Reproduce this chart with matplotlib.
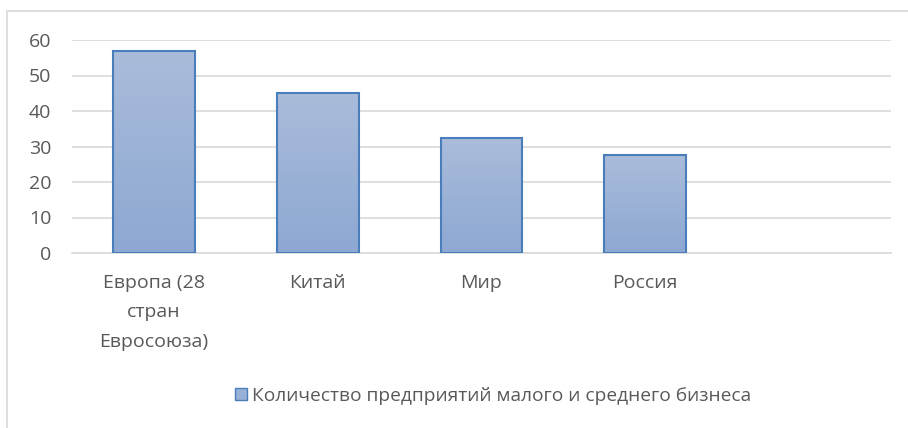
import matplotlib
matplotlib.use('Agg')
import matplotlib.pyplot as plt
import numpy as np
from matplotlib.patches import Rectangle, Patch

categories = ['Европа (28\nстран\nЕвросоюза)', 'Китай', 'Мир', 'Россия', '']
values = [57.0, 45.1, 32.3, 27.7, 0]
series_name = 'Количество предприятий малого и среднего бизнеса'
yticks = [0, 10, 20, 30, 40, 50, 60]

plt.rcParams['font.family'] = ['Open Sans', 'DejaVu Sans']

fig = plt.figure(figsize=(9.08, 4.28), dpi=100)
# outer chart border (goes off the right/bottom edges)
fig.patches.append(Rectangle((7 / 908, -0.1), 1.2, (428 - 10.5) / 428 + 0.1,
                             transform=fig.transFigure, fill=False,
                             edgecolor='#D9D9D9', linewidth=1.2))

ax = fig.add_axes([72 / 908, 175 / 428, 819 / 908, 213 / 428])
x = np.arange(len(categories))
shown = [v if v > 0 else np.nan for v in values]
bars = ax.bar(x, shown, width=0.5, color='none', edgecolor='#4A7EBB',
              linewidth=1.5, zorder=3)

# vertical gradient fill like the office chart
grad = np.linspace(0, 1, 256).reshape(-1, 1)
cmap = matplotlib.colors.LinearSegmentedColormap.from_list('g', ['#8DA8D3', '#AABCDA'])
for b in bars:
    h = b.get_height()
    if not np.isfinite(h):
        continue
    ax.imshow(grad, cmap=cmap, origin='lower', aspect='auto', zorder=2,
              extent=[b.get_x(), b.get_x() + b.get_width(), 0, h])

ax.set_xlim(-0.5, len(categories) - 0.5)
ax.set_ylim(0, 60)
ax.set_yticks(yticks)
ax.set_xticks(x)
ax.set_xticklabels(categories, linespacing=1.82)
ax.yaxis.grid(True, color='#D9D9D9', linewidth=1.2, zorder=0)
ax.set_axisbelow(True)
for s in ['top', 'right', 'left']:
    ax.spines[s].set_visible(False)
ax.spines['bottom'].set_color('#D9D9D9')
ax.spines['bottom'].set_linewidth(1.2)
ax.tick_params(axis='both', length=0, colors='#595959', labelsize=14)
ax.tick_params(axis='y', pad=15)
ax.tick_params(axis='x', pad=15)

handle = Patch(facecolor='#9AB1D7', edgecolor='#4A7EBB', linewidth=1)
fig.legend([handle], [series_name], loc='center', bbox_to_anchor=(493 / 908, 1 - 396 / 428),
           frameon=False, fontsize=13.8, labelcolor='#595959', handlelength=0.6,
           handleheight=0.6, handletextpad=0.25)

plt.savefig('out.png', dpi=100)
